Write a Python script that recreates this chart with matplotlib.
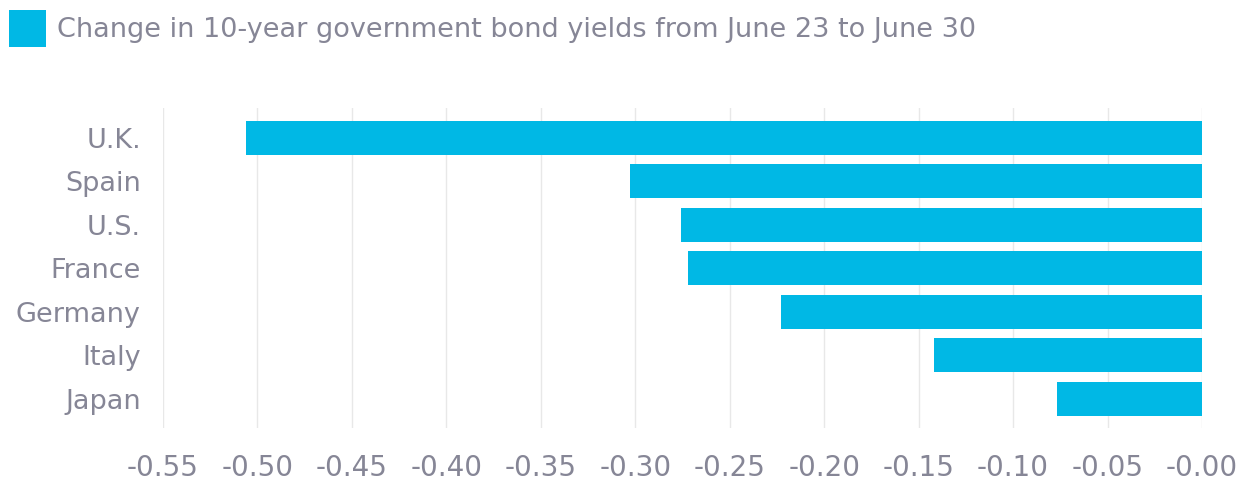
import matplotlib.pyplot as plt
import numpy as np

# --- Data ---
countries = ['U.K.', 'Spain', 'U.S.', 'France', 'Germany', 'Italy', 'Japan']
yield_change = [-0.506, -0.303, -0.276, -0.272, -0.223, -0.142, -0.077]
tick_values = np.arange(-0.55, 0.001, 0.05)
tick_labels = ['-0.55', '-0.50', '-0.45', '-0.40', '-0.35', '-0.30',
               '-0.25', '-0.20', '-0.15', '-0.10', '-0.05', '-0.00']
series_label = 'Change in 10-year government bond yields from June 23 to June 30'

# --- Style ---
BAR_COLOR = '#00b8e5'
TEXT_COLOR = '#868696'
GRID_COLOR = '#e8e8e8'
plt.rcParams['font.family'] = ['DejaVu Sans']

# --- Plot ---
fig = plt.figure(figsize=(12.51, 4.88), dpi=100)
ax = fig.add_axes([0.1303, 0.123, 0.8305, 0.656])

y = np.arange(len(countries))
bars = ax.barh(y, yield_change, height=0.78, color=BAR_COLOR, zorder=3,
               label=series_label)

ax.set_xlim(-0.55, 0.0)
ax.set_ylim(len(countries) - 1 + 0.67, -0.69)
ax.set_xticks(tick_values)
ax.set_xticklabels(tick_labels)
ax.set_yticks(y)
ax.set_yticklabels(countries)

ax.grid(axis='x', color=GRID_COLOR, linewidth=1.0, zorder=0)
for side in ['top', 'right', 'bottom', 'left']:
    ax.spines[side].set_visible(False)
ax.tick_params(axis='x', length=0, pad=19, labelsize=20, labelcolor=TEXT_COLOR)
ax.tick_params(axis='y', length=0, pad=16, labelsize=19.5, labelcolor=TEXT_COLOR)

fig.legend(handles=[bars], labels=[series_label], loc='upper left',
           bbox_to_anchor=(9 / 1251, 1 - 10 / 488), frameon=False,
           fontsize=19.5, labelcolor=TEXT_COLOR, handlelength=1.38,
           handleheight=1.75, handletextpad=0.4, borderaxespad=0,
           borderpad=0)

plt.savefig('out.png', dpi=100)
